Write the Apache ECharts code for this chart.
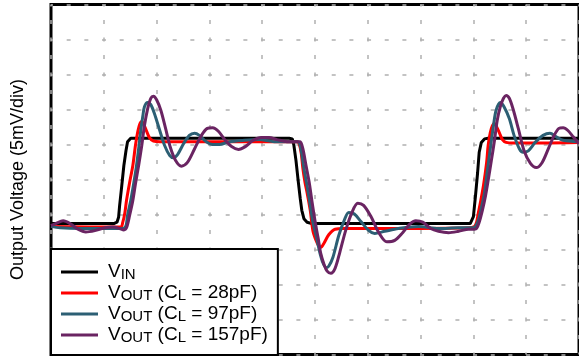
<!DOCTYPE html>
<html>
<head>
<meta charset="utf-8">
<script src="https://cdn.jsdelivr.net/npm/echarts@6/dist/echarts.min.js"></script>
<style>
  html, body { margin: 0; padding: 0; background: #fff; }
  #chart { width: 579px; height: 356px; }
</style>
</head>
<body>
<div id="chart"></div>
<script>
// time in divisions, voltage in mV (5 mV/div)
var vin = [[0,18.7],[1.19,18.7],[1.25,18.9],[1.28,19.6],[1.30,21.3],[1.34,24.1],[1.38,27.0],[1.42,29.1],[1.45,30.4],[1.51,30.9],[1.60,30.9],
  [4.51,30.9],[4.57,30.8],[4.60,29.9],[4.64,27.7],[4.68,24.9],[4.72,22.3],[4.75,20.6],[4.79,19.4],[4.85,18.9],[4.94,18.7],
  [7.94,18.7],[7.96,18.9],[8.00,19.7],[8.04,22.7],[8.08,26.0],[8.11,28.9],[8.15,30.3],[8.21,30.8],[8.28,30.9],[10,30.9]];

var out28 = [[0,18.3],[1.32,18.2],[1.36,18.9],[1.40,20.3],[1.43,22.0],[1.49,24.6],[1.55,27.0],[1.60,29.9],[1.64,31.7],[1.68,32.9],[1.72,33.3],
  [1.75,33.0],[1.81,31.9],[1.87,30.9],[1.94,30.5],[2.06,30.4],[2.81,30.4],[4.66,30.4],[4.70,30.1],[4.74,28.7],[4.77,26.6],[4.81,24.6],
  [4.85,23.1],[4.91,20.6],[4.96,17.7],[5.02,16.3],[5.08,15.4],[5.11,15.3],[5.17,15.9],[5.26,17.1],[5.38,17.9],[5.55,18.0],[6.58,18.0],
  [7.91,18.1],[8.02,18.3],[8.06,18.9],[8.09,20.1],[8.13,21.6],[8.19,24.1],[8.25,27.4],[8.28,29.9],[8.32,31.7],[8.36,32.7],[8.40,33.0],
  [8.43,32.7],[8.49,31.7],[8.55,30.7],[8.62,30.3],[8.75,30.2],[10,30.3]];

var out97 = [[0,18.3],[0.17,18.1],[0.55,18.0],[1.26,18.0],[1.36,18.0],[1.42,18.4],[1.45,19.9],[1.51,22.0],[1.57,24.6],[1.62,27.0],[1.66,29.4],
  [1.70,32.0],[1.74,34.1],[1.77,35.4],[1.83,36.0],[1.89,35.7],[1.96,34.4],[2.06,32.0],[2.15,29.9],[2.25,28.4],[2.32,28.1],[2.40,28.6],
  [2.51,30.1],[2.62,31.3],[2.72,31.6],[2.81,31.3],[2.94,30.4],[3.06,30.0],[3.19,30.0],[3.38,30.4],[3.66,30.6],[3.94,30.7],[4.23,30.4],
  [4.66,30.4],[4.70,30.3],[4.74,29.1],[4.79,26.6],[4.85,24.1],[4.91,21.3],[4.96,18.9],[5.04,16.3],[5.09,14.6],[5.15,13.1],[5.21,12.4],
  [5.26,12.6],[5.34,13.9],[5.45,17.0],[5.55,19.1],[5.64,20.3],[5.74,20.1],[5.87,19.0],[6.02,17.7],[6.13,17.3],[6.32,17.6],[6.58,18.0],
  [6.96,18.3],[7.34,18.0],[7.72,18.1],[7.98,18.1],[8.04,18.3],[8.09,19.1],[8.15,20.9],[8.21,23.1],[8.26,26.0],[8.32,29.4],[8.38,32.7],
  [8.43,34.9],[8.51,36.0],[8.58,35.4],[8.68,33.7],[8.77,31.3],[8.87,29.4],[8.94,28.9],[9.04,29.1],[9.17,30.3],[9.32,31.3],[9.45,31.6],
  [9.57,31.1],[9.70,30.6],[10,30.4]];

var out157 = [[0,18.4],[0.09,18.7],[0.23,19.1],[0.36,18.7],[0.51,17.9],[0.66,17.5],[0.83,17.7],[1.02,18.1],[1.17,18.2],[1.30,18.0],[1.38,17.8],
  [1.43,18.1],[1.49,19.9],[1.55,22.0],[1.60,24.4],[1.66,27.0],[1.72,29.9],[1.77,32.7],[1.83,35.1],[1.89,36.6],[1.94,36.9],[2.00,36.4],
  [2.08,34.9],[2.17,32.3],[2.26,29.6],[2.36,27.7],[2.47,26.9],[2.58,27.4],[2.72,29.4],[2.85,31.3],[2.96,32.3],[3.06,32.4],[3.17,31.9],
  [3.30,30.6],[3.42,29.7],[3.55,29.3],[3.68,29.7],[3.83,30.6],[3.98,31.0],[4.13,31.0],[4.28,30.7],[4.47,30.4],[4.66,30.4],[4.72,30.4],
  [4.77,29.4],[4.83,27.0],[4.89,24.6],[4.94,22.0],[5.00,19.1],[5.06,16.6],[5.11,14.4],[5.17,12.9],[5.23,11.9],[5.30,11.6],[5.38,12.3],
  [5.47,14.6],[5.58,17.7],[5.70,20.3],[5.81,21.6],[5.92,21.3],[6.06,19.7],[6.21,17.4],[6.36,16.1],[6.51,16.3],[6.66,17.4],[6.79,18.6],
  [6.91,19.1],[7.04,18.9],[7.19,18.0],[7.34,17.6],[7.53,17.4],[7.72,17.6],[7.91,17.9],[8.02,17.9],[8.06,18.0],[8.11,18.9],[8.17,20.6],
  [8.23,22.7],[8.28,24.9],[8.34,27.7],[8.40,30.6],[8.45,33.4],[8.51,35.4],[8.57,36.6],[8.62,37.0],[8.68,36.6],[8.75,35.1],[8.85,32.3],
  [8.96,29.1],[9.08,27.3],[9.19,26.7],[9.30,27.4],[9.42,29.4],[9.53,31.3],[9.62,32.3],[9.70,32.4],[9.79,32.0],[9.89,31.1],[10,30.1]];

var seriesNames = ['VIN', 'VOUT28', 'VOUT97', 'VOUT157'];
var legendLabels = {
    VIN: '{m|V}{s|IN}',
    VOUT28: '{m|V}{s|OUT}{m| (C}{s|L}{m| = 28pF)}',
    VOUT97: '{m|V}{s|OUT}{m| (C}{s|L}{m| = 97pF)}',
    VOUT157: '{m|V}{s|OUT}{m| (C}{s|L}{m| = 157pF)}'
};
var colors = ['#000000', '#ff0000', '#2c5f74', '#6a2462'];
var seriesData = [vin, out28, out97, out157];

var font = '"Liberation Sans", Arial, sans-serif';
var myChart = echarts.init(document.getElementById('chart'));
myChart.setOption({
    animation: false,
    grid: {
        left: 51,
        top: 4.5,
        width: 530,
        height: 350,
        show: true,
        borderColor: '#000',
        borderWidth: 3,
        backgroundColor: '#fff'
    },
    xAxis: {
        type: 'value',
        min: 0,
        max: 10,
        interval: 1,
        axisLine: { show: false },
        axisTick: { show: false },
        axisLabel: { show: false },
        splitLine: {
            show: true,
            lineStyle: { color: '#b0b0b0', width: 1.5, type: [4, 13.5], dashOffset: 2 }
        }
    },
    yAxis: {
        type: 'value',
        min: 0,
        max: 50,
        interval: 5,
        name: 'Output Voltage (5mV/div)',
        nameLocation: 'middle',
        nameRotate: 90,
        nameGap: 24,
        nameTextStyle: { fontFamily: font, fontSize: 18, color: '#000' },
        axisLine: { show: false },
        axisTick: { show: false },
        axisLabel: { show: false },
        splitLine: {
            show: true,
            lineStyle: { color: '#b0b0b0', width: 1.5, type: [4, 13.67], dashOffset: 2 }
        }
    },
    legend: {
        left: 51,
        top: 249,
        orient: 'vertical',
        data: seriesNames,
        icon: 'rect',
        itemWidth: 37,
        itemHeight: 3,
        itemGap: 0,
        padding: [12, 10, 10, 10],
        backgroundColor: '#fff',
        borderColor: '#000',
        borderWidth: 2,
        borderRadius: 0,
        formatter: function (name) { return legendLabels[name]; },
        textStyle: {
            padding: [0, 0, 0, 5],
            rich: {
                m: { fontFamily: font, fontSize: 19, color: '#000', lineHeight: 20 },
                s: { fontFamily: font, fontSize: 15, color: '#000', lineHeight: 20, verticalAlign: 'bottom', padding: [6, 0, 0, 0] }
            }
        }
    },
    series: seriesNames.map(function (n, i) {
        return {
            name: n,
            type: 'line',
            data: seriesData[i],
            showSymbol: false,
            smooth: i === 0 ? false : 0.3,
            lineStyle: { color: colors[i], width: 3 },
            itemStyle: { color: colors[i] }
        };
    })
});
</script>
</body>
</html>
